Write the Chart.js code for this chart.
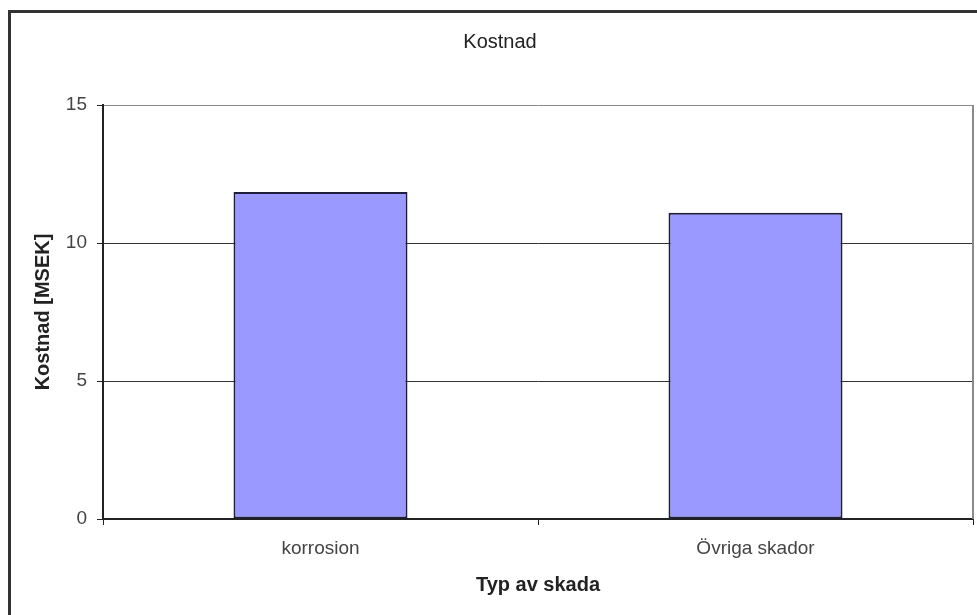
<!DOCTYPE html>
<html>
<head>
<meta charset="utf-8">
<title>Kostnad</title>
<script src="https://cdn.jsdelivr.net/npm/chart.js@4/dist/chart.umd.min.js"></script>
<style>
  html, body { margin: 0; padding: 0; background: #fff; }
  canvas { display: block; }
</style>
</head>
<body>
<canvas id="c" width="977" height="615"></canvas>
<script>
// Damage types and their cost in MSEK
const categories = ['korrosion', 'Övriga skador'];
const costValues = [11.85, 11.1];
const yTicks = [0, 5, 10, 15];
const chartTitle = 'Kostnad';

const FONT = "'Liberation Sans', Arial, sans-serif";

// Frame around the whole figure, the heading, and the grey plot-area edge on the right
const framePlugin = {
  id: 'frame',
  beforeDraw(chart) {
    const ctx = chart.ctx;
    ctx.save();
    ctx.fillStyle = '#fff';
    ctx.fillRect(0, 0, chart.width, chart.height);
    ctx.fillStyle = '#333';
    ctx.fillRect(8, 10, chart.width - 8, 3);
    ctx.fillRect(8, 10, 3, chart.height - 10);
    ctx.fillStyle = '#222';
    ctx.font = '20px ' + FONT;
    ctx.textAlign = 'center';
    ctx.textBaseline = 'middle';
    ctx.fillText(chartTitle, 500, 42);
    ctx.restore();
  },
  beforeDatasetsDraw(chart) {
    const { ctx, chartArea } = chart;
    ctx.save();
    ctx.strokeStyle = '#8a8a8a';
    ctx.lineWidth = 2;
    ctx.beginPath();
    ctx.moveTo(chartArea.right, chartArea.top);
    ctx.lineTo(chartArea.right, chartArea.bottom);
    ctx.stroke();
    ctx.restore();
  }
};

new Chart(document.getElementById('c'), {
  type: 'bar',
  data: {
    labels: categories,
    datasets: [{
      label: chartTitle,
      data: costValues,
      backgroundColor: '#9999ff',
      borderColor: '#1e1e3c',
      borderWidth: 2,
      borderSkipped: false,
      barPercentage: 0.4,
      categoryPercentage: 1.0
    }]
  },
  options: {
    responsive: false,
    animation: false,
    devicePixelRatio: 1,
    layout: { padding: { left: 0, right: 4, top: 105, bottom: 0 } },
    plugins: {
      legend: { display: false },
      tooltip: { enabled: false },
      title: { display: false }
    },
    scales: {
      x: {
        offset: true,
        grid: {
          display: true,
          drawOnChartArea: false,
          drawTicks: true,
          tickLength: 6,
          color: '#222',
          offset: true
        },
        border: { display: true, color: '#222', width: 2 },
        ticks: {
          color: '#444',
          padding: 12,
          font: { family: FONT, size: 19 }
        },
        title: {
          display: true,
          text: 'Typ av skada',
          color: '#222',
          font: { family: FONT, size: 20, weight: 'bold' },
          padding: { top: 0, bottom: 18 }
        },
        afterFit(scale) { scale.height = 96; }
      },
      y: {
        min: 0,
        max: 15,
        afterBuildTicks(scale) {
          scale.ticks = yTicks.map(v => ({ value: v }));
        },
        grid: {
          drawTicks: true,
          tickLength: 6,
          lineWidth: 1,
          color: ctx => (ctx.tick && ctx.tick.value === 15 ? '#8a8a8a' : '#333'),
          tickColor: '#222'
        },
        border: { display: true, color: '#222', width: 2 },
        ticks: {
          color: '#444',
          padding: 10,
          font: { family: FONT, size: 19 }
        },
        title: {
          display: true,
          text: 'Kostnad [MSEK]',
          color: '#222',
          font: { family: FONT, size: 20, weight: 'bold' },
          padding: { top: 31, bottom: 0 }
        },
        afterFit(scale) { scale.width = 103; }
      }
    }
  },
  plugins: [framePlugin]
});
</script>
</body>
</html>
